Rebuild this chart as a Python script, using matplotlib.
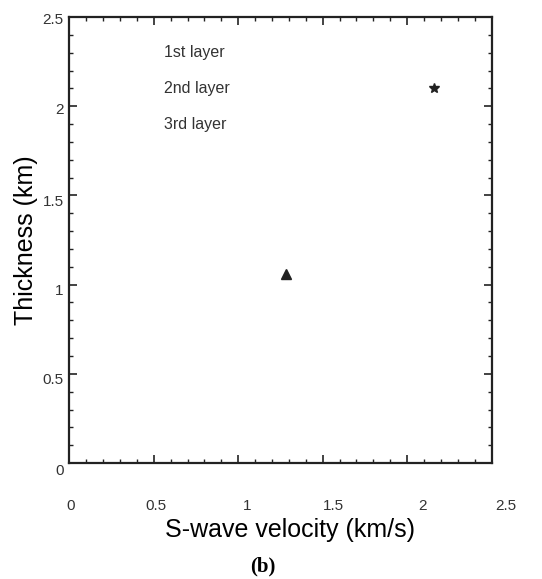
import matplotlib.pyplot as plt
import matplotlib.transforms as mtransforms
from matplotlib.ticker import MultipleLocator

# layer results: S-wave velocity (km/s) vs thickness (km)
layers = ['1st layer', '2nd layer', '3rd layer']
velocity = [2.16, 1.28]
thickness = [2.10, 1.06]
markers = ['*', '^']
x_ticks = [0, 0.5, 1, 1.5, 2, 2.5]
x_ticklabels = ['0', '0.5', '1', '1.5', '2', '2.5']
y_ticks = [0, 0.5, 1, 1.5, 2, 2.5]
y_ticklabels = ['0', '0.5', '1', '1.5', '2', '2.5']

# the scanned labels drift a little from their ticks (pixels)
x_label_shift = [1, 2, 9, 11, 15, 14]
y_label_shift = [-6, -5, -5, -5, -2, -1]

plt.rcParams['font.family'] = ['Liberation Sans', 'DejaVu Sans']

fig = plt.figure(figsize=(5.42, 5.79), dpi=100)
ax = fig.add_axes([0.128, 0.2003, 0.779, 0.7703])

for v, t, m in zip(velocity, thickness, markers):
    ax.plot(v, t, marker=m, color='#222222', markersize=7, linestyle='none')

ax.set_xlim(0, 2.5)
ax.set_ylim(0, 2.5)
ax.set_xticks(x_ticks)
ax.set_xticklabels(x_ticklabels)
ax.set_yticks(y_ticks)
ax.set_yticklabels(y_ticklabels)
ax.xaxis.set_minor_locator(MultipleLocator(0.1))
ax.yaxis.set_minor_locator(MultipleLocator(0.1))
ax.tick_params(which='both', direction='in', top=True, right=True, color='#222222')
ax.tick_params(which='major', length=6, width=1.2)
ax.tick_params(which='minor', length=3, width=1.0)
ax.tick_params(axis='x', which='major', pad=26, labelsize=11, labelcolor='#333333')
ax.tick_params(axis='y', which='major', pad=4, labelsize=11, labelcolor='#333333')
for s in ax.spines.values():
    s.set_linewidth(1.6)
    s.set_color('#222222')

for lab, dx in zip(ax.get_xticklabels(), x_label_shift):
    lab.set_transform(lab.get_transform() +
                      mtransforms.ScaledTranslation(dx / 100, 0, fig.dpi_scale_trans))
for lab, dy in zip(ax.get_yticklabels(), y_label_shift):
    lab.set_transform(lab.get_transform() +
                      mtransforms.ScaledTranslation(0, dy / 100, fig.dpi_scale_trans))

ax.set_xlabel('S-wave velocity (km/s)', fontsize=18, labelpad=3.5, x=0.523)
ax.set_ylabel('Thickness (km)', fontsize=18)
ax.yaxis.set_label_coords(-0.074, 0.5)

# legend entries (symbols faded in the original scan)
for i, name in enumerate(layers):
    ax.text(0.223, 0.921 - i * 0.0807, name, transform=ax.transAxes,
            fontsize=11.5, color='#333333', va='center', ha='left')

fig.text(0.484, 0.022, '(b)', fontsize=15, fontweight='bold',
         family=['Liberation Serif', 'DejaVu Serif'], ha='center', va='center')

fig.savefig('out.png', dpi=100)
